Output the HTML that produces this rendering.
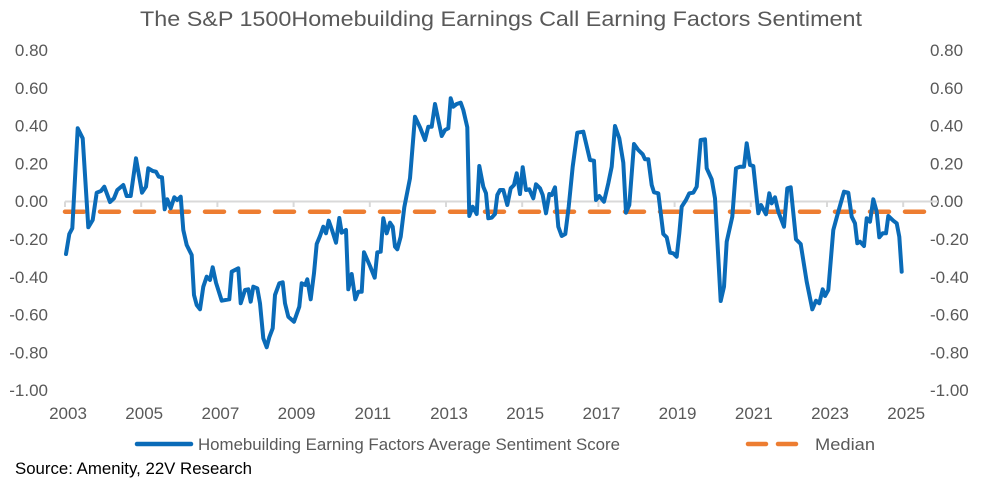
<!DOCTYPE html>
<html><head><meta charset="utf-8"><style>
html,body{margin:0;padding:0;background:#fff;}
svg{display:block;font-family:"Liberation Sans",sans-serif;}
</style></head><body>
<svg id="s" width="1002" height="483" viewBox="0 0 1002 483" xmlns="http://www.w3.org/2000/svg">
<text x="501" y="26" text-anchor="middle" font-size="21" fill="#595959" textLength="722" lengthAdjust="spacingAndGlyphs">The S&amp;P 1500Homebuilding Earnings Call Earning Factors Sentiment</text>
<g id="yl" font-size="17" fill="#595959"></g>
<line x1="65" y1="201.5" x2="938" y2="201.5" stroke="#D9D9D9" stroke-width="2"/>
<g id="tk" stroke="#D9D9D9" stroke-width="2"></g>
<g id="xl" font-size="17" fill="#595959" text-anchor="middle"></g>
<line x1="65" y1="211.7" x2="938" y2="211.7" stroke="#ED7D31" stroke-width="4.5" stroke-dasharray="19 16" stroke-linecap="round"/>
<polyline id="pl" fill="none" stroke="#0A6BB8" stroke-width="4" stroke-linejoin="round" stroke-linecap="round" points=""/>
<line x1="137" y1="444" x2="191" y2="444" stroke="#0A6BB8" stroke-width="4.5" stroke-linecap="round"/>
<text x="198" y="450" font-size="17" fill="#595959" textLength="422" lengthAdjust="spacingAndGlyphs">Homebuilding Earning Factors Average Sentiment Score</text>
<line x1="748" y1="444" x2="800" y2="444" stroke="#ED7D31" stroke-width="4.5" stroke-dasharray="18 12" stroke-linecap="round"/>
<text x="815" y="450" font-size="17" fill="#595959" textLength="60" lengthAdjust="spacingAndGlyphs">Median</text>
<text x="15" y="474" font-size="17" fill="#000" textLength="237" lengthAdjust="spacingAndGlyphs">Source: Amenity, 22V Research</text>
</svg>
<script>
var NS="http://www.w3.org/2000/svg";
function el(p,t,a,txt){var e=document.createElementNS(NS,t);for(var k in a)e.setAttribute(k,a[k]);if(txt)e.textContent=txt;document.getElementById(p).appendChild(e);}
var labs=["0.80","0.60","0.40","0.20","0.00","-0.20","-0.40","-0.60","-0.80","-1.00"];
for(var i=0;i<10;i++){var y=50+i*37.8+6;el("yl","text",{x:48,y:y,"text-anchor":"end"},labs[i]);el("yl","text",{x:930,y:y},labs[i]);}
for(var k=0;k<=11;k++){var x=65+k*76.2;el("tk","line",{x1:x,y1:201.5,x2:x,y2:207});el("xl","text",{x:x+3,y:419},String(2003+2*k));}
var z1=[78,492,88,432,97,415,113,115,128,145,145,412,158,390,170,308,183,303,193,290,210,336,222,325,232,300,250,285,260,318,272,318,288,205,306,308,318,290,325,235,338,243,348,245,356,260,366,262,374,358,382,328,392,355,403,322,412,330,422,320,430,420,440,465,455,495,462,615,470,645,480,658,490,590,500,560,510,570,518,532,528,578,545,632,568,628,575,545,595,535,602,640,615,600,625,598,632,635,640,590,652,595,660,640,670,745,680,772,688,742,698,715,705,615,718,580,728,577,735,640,745,680,762,695,778,650,785,580,796,585,802,568,812,628,822,550,830,462,840,438,850,410,858,430,866,392,876,420,888,458,898,384,905,428,918,420,925,598,935,552,946,628,955,605,965,605,972,487,990,528,1004,563,1012,487,1022,485,1030,385,1040,430,1050,398,1058,410,1065,470,1072,478,1082,440,1093,352,1110,265,1125,80,1140,112,1155,150,1165,110,1175,110,1185,42,1205,138,1215,120,1225,115,1232,25,1240,50,1250,42,1262,38,1270,60,1282,112,1288,378,1298,350,1310,372,1318,228,1330,290,1338,310,1345,385,1355,383,1365,372,1372,315,1380,300];
var z2=[70,300,82,345,92,295,102,285,110,250,120,312,128,232,138,300,148,298,160,325,168,283,180,295,188,315,198,370,208,312,215,315,225,292,235,410,245,438,256,432,266,350,278,230,292,128,310,125,330,210,342,212,348,330,358,318,372,335,385,280,395,230,405,108,418,145,430,218,438,368,448,345,462,162,475,180,488,193,495,208,505,208,515,285,522,307,535,310,550,432,560,442,570,488,580,490,590,500,598,430,605,350,618,330,628,310,640,308,650,290,662,150,675,148,680,235,695,268,705,325,722,633,732,590,740,455,757,380,768,235,780,230,792,230,800,160,810,225,820,228,835,370,843,345,858,373,868,310,875,340,885,322,895,365,912,410,922,295,932,292,948,448,962,462,980,575,997,658,1008,632,1018,640,1028,598,1035,618,1045,600,1060,420,1075,365,1092,305,1105,308,1115,380,1125,400,1132,460,1140,455,1152,468,1160,385,1170,395,1180,328,1190,365,1198,442,1208,430,1218,430,1225,378,1240,392,1250,400,1258,440,1265,545];
var pts=[];
for(var i=0;i<z1.length;i+=2)pts.push((40+z1[i]/3).toFixed(1)+","+(90+z1[i+1]/3).toFixed(1));
for(var i=0;i<z2.length;i+=2)pts.push((480+z2[i]/3).toFixed(1)+","+(90+z2[i+1]/3).toFixed(1));
document.getElementById("pl").setAttribute("points",pts.join(" "));
</script>
</body></html>
